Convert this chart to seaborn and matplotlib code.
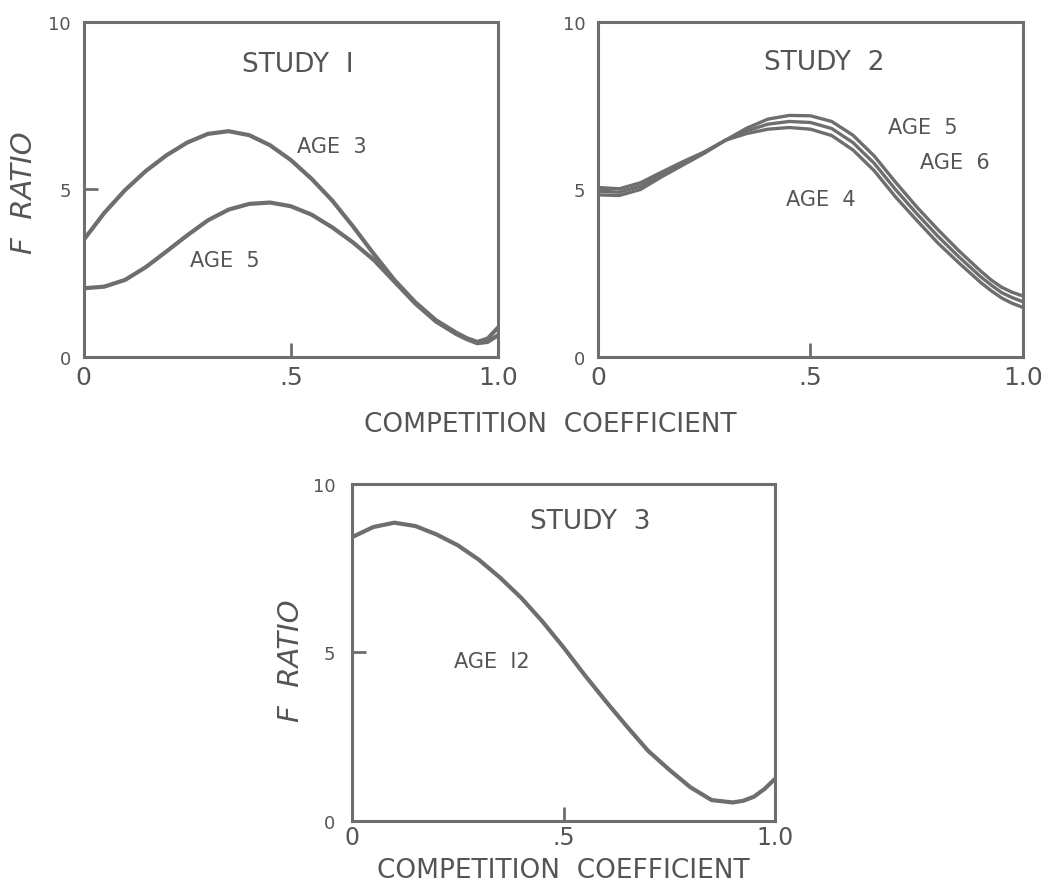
import numpy as np
import pandas as pd
import matplotlib
matplotlib.use("Agg")
import matplotlib.pyplot as plt
import seaborn as sns

# competition coefficient grid
coef = [0.0, 0.05, 0.1, 0.15, 0.2, 0.25, 0.3, 0.35, 0.4, 0.45, 0.5,
        0.55, 0.6, 0.65, 0.7, 0.75, 0.8, 0.85, 0.9, 0.925, 0.95, 0.975, 1.0]

# study 1
s1_age3 = [3.49, 4.3, 4.98, 5.55, 6.02, 6.4, 6.66, 6.74, 6.62, 6.32, 5.88,
           5.32, 4.67, 3.9, 3.08, 2.3, 1.64, 1.1, 0.72, 0.56, 0.45, 0.55, 0.88]
s1_age5 = [2.05, 2.1, 2.3, 2.68, 3.15, 3.63, 4.08, 4.4, 4.57, 4.61, 4.5,
           4.25, 3.87, 3.42, 2.9, 2.25, 1.6, 1.06, 0.68, 0.53, 0.41, 0.45, 0.65]

# study 2
s2_age5 = [4.84, 4.82, 5.0, 5.38, 5.73, 6.08, 6.47, 6.83, 7.1, 7.21, 7.2,
           7.03, 6.62, 6.0, 5.22, 4.48, 3.8, 3.16, 2.57, 2.3, 2.08, 1.93, 1.82]
s2_age6 = [4.95, 4.92, 5.1, 5.45, 5.78, 6.1, 6.47, 6.75, 6.95, 7.03, 7.0,
           6.82, 6.4, 5.78, 5.0, 4.28, 3.6, 2.98, 2.4, 2.15, 1.92, 1.77, 1.65]
s2_age4 = [5.06, 5.02, 5.2, 5.52, 5.83, 6.12, 6.47, 6.67, 6.8, 6.85, 6.8,
           6.61, 6.18, 5.56, 4.78, 4.08, 3.4, 2.8, 2.23, 1.98, 1.76, 1.6, 1.48]

# study 3
s3_age12 = [8.42, 8.72, 8.85, 8.75, 8.5, 8.18, 7.75, 7.22, 6.62, 5.92, 5.15,
            4.33, 3.55, 2.8, 2.08, 1.52, 1.0, 0.62, 0.55, 0.6, 0.72, 0.95, 1.25]

x_ticks = [0, 0.5, 1.0]
x_ticklabels = ["0", ".5", "1.0"]
y_ticks = [0, 5, 10]
y_ticklabels = ["0", "5", "10"]

sns.set_style("white")
plt.rcParams['font.family'] = ['DejaVu Sans']

INK = "#555555"
LINE = "#6e6e6e"


def long_df(series):
    rows = []
    for name, vals in series.items():
        for c, v in zip(coef, vals):
            rows.append({"coef": c, "F": v, "age": name})
    return pd.DataFrame(rows)


def style_axes(ax, ypad=9, xsize=18, xpad=6):
    ax.set_xlim(0, 1)
    ax.set_ylim(0, 10)
    ax.set_xticks(x_ticks)
    ax.set_xticklabels(x_ticklabels)
    ax.set_yticks(y_ticks)
    ax.set_yticklabels(y_ticklabels)
    ax.tick_params(axis="x", bottom=True, direction="in", length=10, width=2.0,
                   color=LINE, labelsize=xsize, labelcolor=INK, pad=xpad)
    ax.tick_params(axis="y", left=True, direction="in", length=10, width=2.0,
                   color=LINE, labelsize=13, labelcolor=INK, pad=ypad)
    for sp in ax.spines.values():
        sp.set_color(LINE)
        sp.set_linewidth(2.2)
    ax.set_xlabel("")
    ax.set_ylabel("")
    leg = ax.get_legend()
    if leg is not None:
        leg.remove()


fig = plt.figure(figsize=(10.43, 8.87), dpi=100)

ax1 = fig.add_axes([0.0801, 0.5964, 0.3974, 0.3777])
ax2 = fig.add_axes([0.5733, 0.5964, 0.4075, 0.3777])
ax3 = fig.add_axes([0.3375, 0.0733, 0.4056, 0.3800])

d1 = long_df({"AGE 3": s1_age3, "AGE 5": s1_age5})
sns.lineplot(data=d1, x="coef", y="F", units="age", estimator=None,
             color=LINE, linewidth=3.0, ax=ax1, solid_joinstyle="round")
d2 = long_df({"AGE 5": s2_age5, "AGE 6": s2_age6, "AGE 4": s2_age4})
sns.lineplot(data=d2, x="coef", y="F", units="age", estimator=None,
             color=LINE, linewidth=2.4, ax=ax2, solid_joinstyle="round")
d3 = long_df({"AGE 12": s3_age12})
sns.lineplot(data=d3, x="coef", y="F", units="age", estimator=None,
             color=LINE, linewidth=3.0, ax=ax3, solid_joinstyle="round")

style_axes(ax1)
style_axes(ax2)
style_axes(ax3, ypad=12, xsize=17, xpad=3)

lab = dict(color=INK, ha="center", va="center")
ax1.text(0.516, 8.75, "STUDY  I", fontsize=19, **lab)
ax1.text(0.60, 6.3, "AGE  3", fontsize=15, **lab)
ax1.text(0.342, 2.9, "AGE  5", fontsize=15, **lab)

ax2.text(0.532, 8.8, "STUDY  2", fontsize=19, **lab)
ax2.text(0.765, 6.87, "AGE  5", fontsize=15, **lab)
ax2.text(0.84, 5.82, "AGE  6", fontsize=15, **lab)
ax2.text(0.525, 4.73, "AGE  4", fontsize=15, **lab)

ax3.text(0.564, 8.9, "STUDY  3", fontsize=19, **lab)
ax3.text(0.33, 4.75, "AGE  I2", fontsize=15, **lab)

fig.text(24 / 1043, 1 - 193 / 887, "F  RATIO", rotation=90, style="italic",
         fontsize=21, **lab)
fig.text(291 / 1043, 1 - 661 / 887, "F  RATIO", rotation=90, style="italic",
         fontsize=21, **lab)
fig.text(550 / 1043, 1 - 425 / 887, "COMPETITION  COEFFICIENT", fontsize=19,
         **lab)
fig.text(563 / 1043, 1 - 871 / 887, "COMPETITION  COEFFICIENT", fontsize=19,
         **lab)

fig.savefig("out.png", dpi=100, facecolor="white")
